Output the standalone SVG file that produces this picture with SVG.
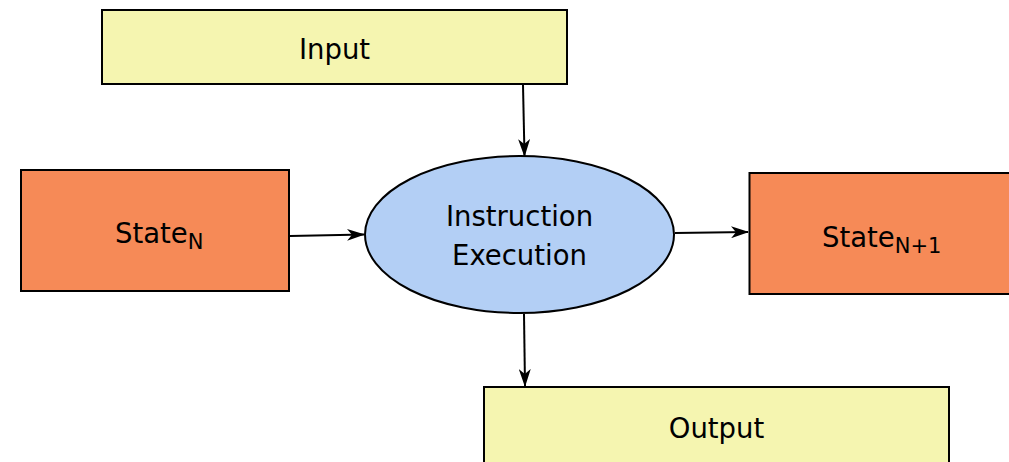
<svg xmlns="http://www.w3.org/2000/svg" width="1009" height="462" viewBox="0 0 1009 462">
<defs>
<style>
.box{stroke:#000;stroke-width:2}
.yel{fill:#f5f5b0}
.org{fill:#f68a57}
.ell{fill:#b3cff5;stroke:#000;stroke-width:2}
.t{font-family:"DejaVu Sans",Verdana,sans-serif;font-size:27.5px;fill:#000}
.c{text-anchor:middle}
.sub{font-size:21px}
.con{stroke:#000;stroke-width:2;fill:none;marker-end:url(#arr)}
</style>
<marker id="arr" viewBox="0 0 18 12" refX="17" refY="6" markerWidth="18" markerHeight="12" markerUnits="userSpaceOnUse" orient="auto">
<path d="M0,0 L18,6 L0,12 L5,6 Z" fill="#000"/>
</marker>
</defs>
<rect width="1009" height="462" fill="#fff"/>
<g id="connectors">
<line class="con" x1="523" y1="85" x2="524.5" y2="156"/>
<line class="con" x1="290" y1="236" x2="364" y2="234.5"/>
<line class="con" x1="675" y1="233" x2="748" y2="232"/>
<line class="con" x1="524" y1="314" x2="525" y2="386"/>
</g>
<g id="input">
<rect class="box yel" x="102" y="10" width="465" height="74"/>
<text class="t c" x="334.5" y="59">Input</text>
</g>
<g id="state_n">
<rect class="box org" x="21" y="170" width="268" height="121"/>
<text class="t" x="115" y="243">State<tspan class="sub" dy="6">N</tspan></text>
</g>
<g id="instruction_execution">
<ellipse class="ell" cx="519.5" cy="234.5" rx="154.5" ry="78.5"/>
<text class="t c" x="519.5" y="226">Instruction</text>
<text class="t c" x="519.5" y="265">Execution</text>
</g>
<g id="state_n1">
<rect class="box org" x="749.5" y="173" width="270" height="121"/>
<text class="t" x="822" y="247">State<tspan class="sub" dy="6">N+1</tspan></text>
</g>
<g id="output">
<rect class="box yel" x="484" y="387" width="465" height="90"/>
<text class="t c" x="716.5" y="438">Output</text>
</g>
</svg>
